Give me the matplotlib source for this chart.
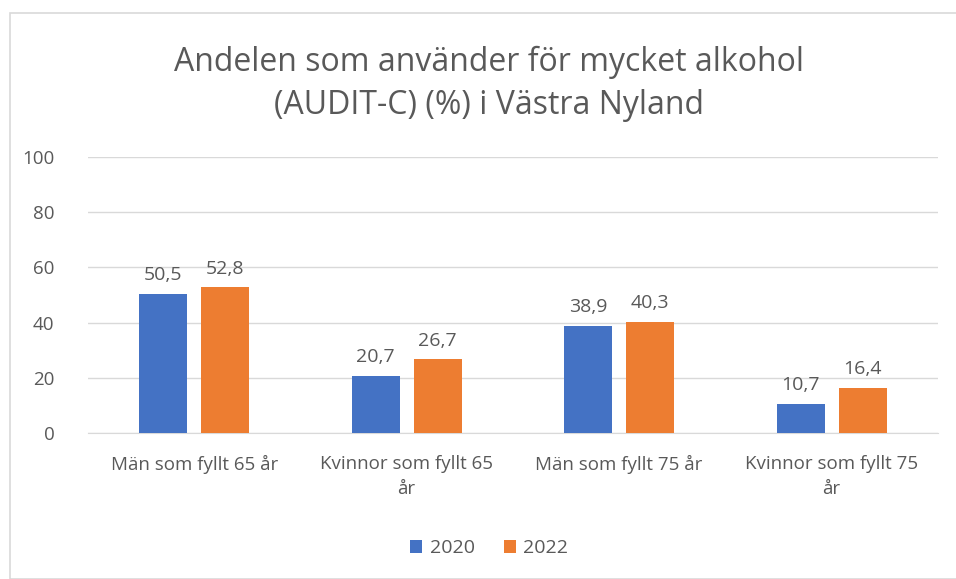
import numpy as np
import matplotlib.pyplot as plt
from matplotlib.patches import Rectangle

categories = ['Män som fyllt 65 år', 'Kvinnor som fyllt 65\når', 'Män som fyllt 75 år', 'Kvinnor som fyllt 75\når']
years = ['2020', '2022']
vals_2020 = [50.5, 20.7, 38.9, 10.7]
vals_2022 = [52.8, 26.7, 40.3, 16.4]
colors = ['#4472c4', '#ed7d31']

plt.rcParams['font.family'] = ['Open Sans', 'DejaVu Sans']
txt = '#595959'

fig = plt.figure(figsize=(9.56, 5.79), dpi=100)
ax = fig.add_axes([0.092, 0.252, 0.889, 0.477])

x = np.arange(len(categories))
w = 0.226
off = 0.146
for i, (vals, c, lab) in enumerate(zip([vals_2020, vals_2022], colors, years)):
    pos = x + (off if i else -off)
    bars = ax.bar(pos, vals, w, color=c, label=lab, zorder=3)
    for b, v in zip(bars, vals):
        ax.text(b.get_x() + b.get_width() / 2, v + 3.5, f'{v:.1f}'.replace('.', ','),
                ha='center', va='bottom', fontsize=14, color=txt)

ax.set_xlim(-0.5, 3.5)
ax.set_ylim(0, 100)
ax.set_yticks(range(0, 101, 20))
ax.set_xticks(x)
ax.set_xticklabels(categories, fontsize=13.5, color=txt, linespacing=1.45)
ax.tick_params(axis='y', labelsize=13.5, labelcolor=txt, length=0, pad=24)
ax.tick_params(axis='x', length=0, pad=16)
ax.grid(axis='y', color='#d9d9d9', lw=1, zorder=0)
for s in ['top', 'right', 'left']:
    ax.spines[s].set_visible(False)
ax.spines['bottom'].set_color('#d9d9d9')

fig.text(0.511, 0.855, 'Andelen som använder för mycket alkohol\n(AUDIT-C) (%) i Västra Nyland',
         ha='center', va='center', fontsize=23, color=txt, linespacing=1.38)

fig.legend(loc='center', bbox_to_anchor=(0.512, 0.053), ncol=2, frameon=False,
           fontsize=14, labelcolor=txt, handlelength=0.6, handleheight=0.6,
           handletextpad=0.4, columnspacing=1.5)

fig.patches.append(Rectangle((10 / 956, 0), 1.2, 1 - 13 / 579, transform=fig.transFigure,
                             fill=False, edgecolor='#d9d9d9', lw=1.2))

fig.savefig('out.png', dpi=100)
